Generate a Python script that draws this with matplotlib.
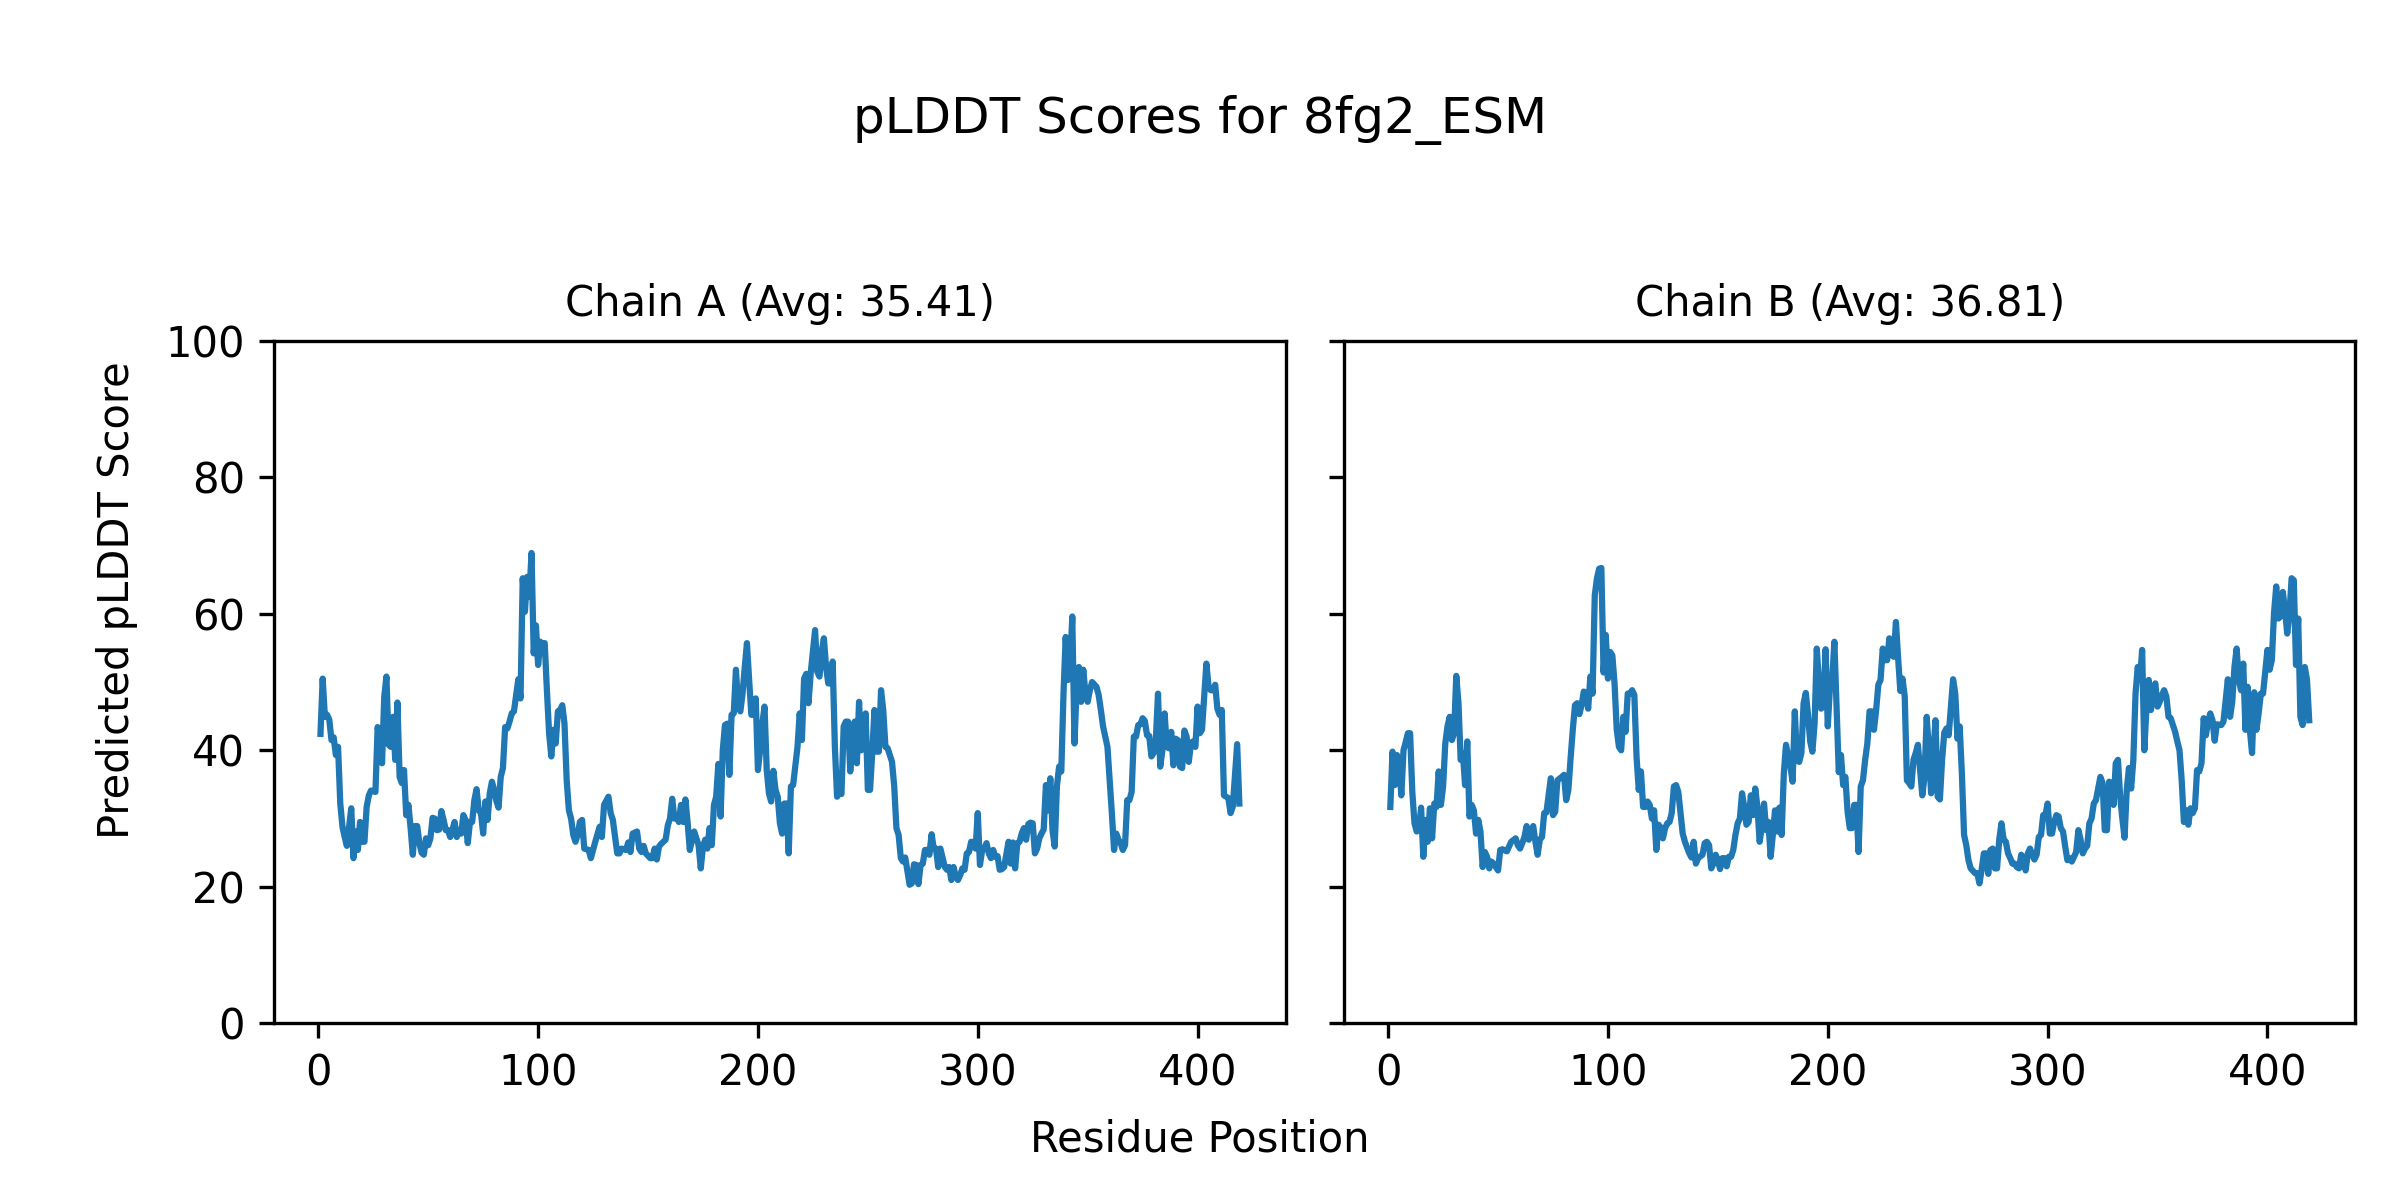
import matplotlib
matplotlib.use("Agg")
import matplotlib.pyplot as plt

# values (residue position, pLDDT score)
chain_a_pos = [1, 2, 3, 4, 5, 6, 7, 8, 9, 10, 11, 12, 13, 15, 16, 17, 18, 19, 20, 21,
               22, 23, 24, 26, 27, 28, 29, 30, 31, 32, 33, 34, 35, 36, 37, 38, 39, 40, 41, 42,
               43, 44, 45, 46, 47, 48, 49, 50, 51, 52, 53, 54, 55, 56, 57, 58, 59, 60, 61, 62,
               63, 64, 65, 66, 67, 68, 69, 70, 71, 72, 73, 74, 75, 76, 77, 78, 79, 80, 81, 82,
               83, 84, 85, 86, 87, 88, 89, 90, 91, 92, 93, 94, 95, 96, 97, 98, 99, 100, 101, 102,
               103, 104, 105, 106, 107, 108, 109, 110, 111, 112, 113, 114, 115, 116, 117, 118, 119, 120, 121, 123,
               124, 125, 126, 128, 129, 130, 132, 133, 134, 135, 136, 137, 138, 140, 141, 142, 143, 145, 146, 147,
               148, 149, 151, 152, 153, 154, 155, 156, 158, 159, 160, 161, 162, 163, 164, 165, 166, 167, 168, 169,
               170, 171, 172, 173, 174, 175, 176, 177, 178, 179, 180, 181, 182, 183, 184, 185, 186, 187, 188, 189,
               190, 191, 192, 193, 194, 195, 196, 197, 198, 199, 200, 201, 202, 203, 204, 205, 206, 207, 208, 209,
               210, 211, 212, 213, 214, 215, 216, 218, 219, 220, 221, 222, 223, 224, 226, 227, 228, 229, 230, 231,
               232, 233, 234, 235, 236, 237, 238, 239, 240, 241, 242, 243, 244, 245, 246, 247, 249, 250, 251, 252,
               253, 254, 255, 256, 257, 258, 259, 261, 262, 263, 264, 265, 266, 267, 269, 270, 271, 272, 273, 274,
               275, 276, 277, 278, 279, 280, 281, 282, 283, 285, 286, 287, 288, 289, 290, 291, 292, 293, 294, 295,
               296, 297, 298, 299, 300, 301, 302, 303, 304, 305, 306, 307, 308, 309, 310, 311, 312, 314, 315, 316,
               317, 318, 319, 320, 321, 322, 323, 324, 325, 326, 327, 328, 329, 330, 331, 332, 333, 334, 335, 336,
               337, 338, 339, 340, 341, 342, 343, 344, 345, 346, 347, 348, 349, 350, 351, 352, 354, 355, 356, 357,
               359, 360, 361, 362, 363, 364, 365, 366, 367, 368, 369, 370, 371, 372, 373, 374, 375, 376, 377, 378,
               379, 380, 381, 382, 383, 384, 385, 386, 387, 388, 389, 390, 391, 392, 393, 394, 395, 396, 397, 398,
               399, 400, 401, 402, 404, 405, 406, 407, 408, 409, 410, 411, 412, 413, 414, 415, 416, 418, 419]
chain_a_score = [42.4, 50.5, 44.9, 45.2, 44.5, 41.5, 41.9, 39.3, 40.5, 32.2, 28.8, 27.3, 26.0, 31.5, 24.2, 28.1, 25.4, 29.5, 26.6, 26.6,
                 31.7, 33.4, 34.1, 33.9, 43.4, 41.5, 38.1, 47.8, 50.8, 40.8, 40.5, 44.9, 38.6, 47.0, 36.1, 35.2, 37.1, 30.5, 32.0, 28.6,
                 24.7, 28.9, 28.9, 26.4, 25.0, 24.7, 27.1, 26.1, 27.1, 30.1, 30.0, 28.3, 28.4, 31.1, 29.8, 28.3, 28.3, 27.3, 28.3, 29.5,
                 27.3, 28.3, 27.8, 30.5, 29.8, 26.4, 29.5, 29.5, 32.7, 34.3, 31.2, 30.8, 27.8, 32.5, 29.8, 33.7, 35.4, 34.2, 32.6, 31.6,
                 36.1, 37.4, 43.4, 43.2, 44.2, 45.4, 45.7, 48.1, 50.4, 47.6, 65.2, 60.3, 65.4, 62.5, 68.9, 54.2, 58.3, 52.5, 55.9, 55.4,
                 55.7, 48.8, 42.5, 39.1, 43.0, 41.0, 45.7, 45.9, 46.6, 43.9, 35.6, 31.2, 30.0, 27.6, 26.6, 27.6, 29.5, 29.8, 25.6, 25.4,
                 24.2, 25.4, 26.6, 28.8, 27.3, 32.0, 33.2, 30.8, 29.8, 27.3, 24.9, 24.9, 25.6, 25.4, 26.5, 25.1, 27.8, 28.1, 25.6, 25.1,
                 26.0, 24.9, 24.2, 24.2, 25.6, 24.0, 25.9, 26.3, 26.9, 29.0, 30.0, 32.9, 30.0, 30.5, 29.5, 32.0, 29.5, 32.8, 29.5, 25.4,
                 26.9, 28.1, 27.1, 26.1, 22.7, 25.9, 26.9, 25.6, 28.6, 26.1, 32.0, 33.2, 38.0, 30.3, 40.0, 43.7, 43.9, 36.4, 45.2, 45.4,
                 51.8, 46.4, 45.7, 48.3, 52.2, 55.7, 50.3, 45.2, 45.2, 47.6, 37.1, 40.0, 43.9, 46.4, 37.1, 33.7, 32.5, 37.0, 34.2, 33.2,
                 29.3, 27.8, 32.2, 32.2, 24.9, 34.7, 34.9, 40.5, 45.4, 41.5, 50.5, 51.2, 46.9, 51.3, 57.6, 51.5, 50.8, 54.4, 56.4, 52.2,
                 49.8, 49.8, 53.0, 40.5, 33.2, 33.7, 33.6, 43.5, 44.2, 44.2, 36.9, 41.5, 44.2, 38.1, 47.1, 40.0, 45.4, 34.2, 34.2, 39.6,
                 45.9, 39.8, 39.8, 48.8, 45.9, 40.5, 40.3, 38.3, 34.7, 28.6, 27.6, 24.2, 23.7, 24.3, 20.3, 20.5, 23.3, 23.2, 20.4, 23.2,
                 23.4, 25.4, 25.4, 24.7, 27.7, 25.6, 25.6, 22.9, 25.6, 22.9, 22.5, 22.9, 21.0, 22.9, 21.5, 21.0, 21.7, 22.7, 22.5, 24.9,
                 25.1, 26.6, 26.5, 25.6, 30.8, 23.2, 25.4, 25.6, 26.4, 24.9, 24.2, 25.4, 24.4, 24.5, 22.5, 22.6, 22.9, 26.6, 23.4, 26.5,
                 22.7, 26.4, 26.6, 27.8, 28.6, 26.9, 29.2, 29.4, 29.3, 24.9, 25.6, 27.1, 27.8, 28.4, 34.9, 31.2, 35.9, 28.3, 25.9, 34.7,
                 37.6, 36.9, 48.3, 56.6, 50.3, 52.2, 59.6, 41.0, 49.3, 52.2, 47.1, 51.8, 48.3, 47.1, 48.8, 50.0, 49.3, 48.1, 45.9, 43.5,
                 40.5, 35.6, 30.8, 25.4, 27.8, 26.9, 26.4, 25.4, 26.1, 32.7, 32.7, 33.9, 42.0, 42.0, 43.7, 43.8, 44.7, 44.3, 42.2, 42.1,
                 39.1, 39.6, 41.5, 48.3, 37.6, 40.0, 45.4, 40.5, 40.3, 42.7, 37.8, 41.7, 41.5, 37.6, 37.4, 42.9, 42.0, 38.3, 41.1, 41.3,
                 40.5, 46.4, 42.5, 43.0, 52.7, 49.3, 48.8, 48.8, 49.6, 46.1, 45.2, 45.9, 33.4, 33.2, 33.0, 30.8, 31.7, 40.9, 32.2]

chain_b_pos = [1, 2, 3, 4, 5, 6, 7, 8, 9, 10, 11, 12, 13, 14, 15, 16, 17, 18, 19, 20,
               21, 22, 23, 24, 25, 26, 27, 28, 29, 30, 31, 32, 33, 34, 35, 36, 37, 38, 39, 40,
               41, 42, 43, 44, 45, 46, 47, 48, 49, 50, 51, 52, 54, 55, 56, 58, 59, 60, 61, 62,
               63, 64, 66, 67, 68, 69, 70, 71, 72, 74, 75, 76, 77, 79, 80, 81, 82, 83, 84, 85,
               86, 87, 88, 89, 90, 91, 92, 93, 94, 95, 96, 97, 98, 99, 100, 101, 102, 103, 104, 105,
               106, 107, 108, 109, 110, 111, 112, 113, 114, 115, 116, 117, 118, 119, 120, 121, 122, 123, 124, 125,
               126, 127, 128, 129, 130, 131, 132, 133, 134, 135, 137, 138, 139, 140, 141, 143, 144, 145, 146, 147,
               148, 149, 150, 151, 152, 153, 154, 155, 156, 157, 158, 159, 160, 161, 162, 163, 164, 165, 166, 167,
               168, 169, 170, 171, 172, 173, 174, 175, 176, 177, 178, 179, 180, 181, 182, 183, 184, 185, 186, 187,
               188, 189, 190, 191, 192, 193, 194, 195, 196, 197, 198, 199, 200, 201, 202, 203, 205, 206, 207, 208,
               209, 210, 211, 212, 213, 214, 215, 216, 217, 218, 219, 220, 221, 222, 223, 224, 225, 226, 227, 228,
               229, 230, 231, 232, 233, 234, 235, 236, 237, 238, 239, 240, 241, 242, 243, 244, 245, 246, 247, 248,
               249, 250, 251, 252, 253, 254, 255, 256, 257, 258, 259, 260, 261, 262, 263, 264, 265, 267, 268, 269,
               270, 271, 272, 273, 274, 275, 276, 277, 278, 279, 280, 281, 282, 283, 284, 285, 286, 287, 288, 289,
               290, 291, 292, 293, 294, 295, 296, 297, 298, 299, 300, 301, 302, 303, 304, 305, 306, 307, 308, 309,
               310, 311, 312, 313, 314, 315, 316, 317, 318, 319, 320, 321, 322, 323, 324, 325, 326, 327, 328, 329,
               330, 331, 332, 333, 334, 335, 336, 337, 338, 339, 340, 341, 342, 343, 344, 345, 346, 347, 348, 349,
               350, 351, 352, 353, 354, 355, 356, 357, 358, 359, 360, 361, 362, 363, 364, 365, 366, 367, 368, 369,
               370, 371, 372, 373, 374, 375, 376, 377, 379, 380, 382, 383, 384, 385, 386, 387, 388, 389, 390, 391,
               392, 393, 394, 395, 396, 397, 398, 400, 401, 402, 403, 404, 405, 406, 407, 408, 409, 410, 411, 412,
               413, 414, 415, 416, 417, 418, 419]
chain_b_score = [31.7, 39.8, 34.9, 39.3, 38.5, 33.4, 40.0, 41.2, 42.5, 42.5, 33.9, 29.3, 28.1, 28.4, 31.6, 24.4, 29.8, 26.6, 31.5, 27.1,
                 32.2, 31.7, 36.9, 32.0, 34.7, 41.0, 43.5, 44.9, 41.5, 42.5, 50.9, 46.9, 38.6, 39.6, 34.9, 41.3, 30.3, 32.0, 31.2, 27.8,
                 29.8, 28.1, 22.9, 25.1, 24.4, 22.7, 23.7, 23.4, 22.9, 22.4, 25.4, 25.5, 25.2, 25.9, 26.6, 27.1, 26.1, 25.6, 26.4, 27.3,
                 28.9, 26.9, 28.9, 26.6, 24.7, 26.9, 27.3, 30.8, 30.9, 35.9, 30.5, 31.0, 35.6, 36.1, 36.4, 32.7, 34.2, 38.8, 43.0, 46.6,
                 46.9, 45.3, 46.6, 48.6, 48.4, 46.1, 50.8, 48.3, 62.7, 65.2, 66.6, 66.7, 51.4, 56.9, 50.5, 54.4, 53.9, 49.8, 43.0, 40.5,
                 40.0, 44.9, 42.7, 48.3, 48.3, 48.8, 48.1, 39.1, 34.2, 36.9, 31.7, 31.7, 32.5, 32.0, 30.0, 31.2, 25.4, 29.1, 28.7, 27.1,
                 28.6, 29.3, 29.5, 30.8, 34.7, 34.9, 33.9, 30.8, 27.8, 26.6, 24.9, 24.3, 26.6, 23.4, 24.2, 24.7, 26.4, 26.6, 26.1, 22.7,
                 23.4, 24.7, 23.9, 22.6, 24.2, 24.2, 23.0, 24.4, 24.4, 25.4, 27.6, 29.3, 30.0, 33.7, 31.7, 29.1, 29.5, 33.4, 30.5, 34.4,
                 31.7, 26.6, 28.8, 32.2, 28.3, 29.5, 24.4, 27.6, 31.2, 28.1, 31.6, 27.6, 36.6, 40.8, 39.1, 37.6, 35.4, 45.7, 38.5, 38.3,
                 39.6, 46.9, 48.4, 45.2, 41.3, 39.8, 43.9, 54.9, 49.8, 46.1, 46.6, 54.8, 43.5, 49.3, 50.3, 55.9, 36.8, 39.3, 34.9, 36.1,
                 31.0, 28.6, 28.6, 32.0, 32.0, 25.1, 34.7, 35.6, 38.6, 41.0, 45.7, 45.7, 43.0, 45.9, 49.6, 50.3, 54.9, 53.2, 53.2, 56.4,
                 54.0, 53.7, 58.8, 53.5, 48.7, 50.5, 47.9, 35.6, 35.2, 34.7, 38.6, 39.6, 40.8, 37.1, 33.4, 36.1, 44.9, 40.0, 33.7, 39.6,
                 44.4, 33.2, 32.8, 38.6, 42.6, 43.2, 42.2, 46.4, 50.4, 48.3, 41.7, 43.5, 36.6, 27.6, 26.1, 23.9, 22.7, 22.0, 22.0, 20.5,
                 22.5, 24.9, 24.9, 21.9, 25.4, 25.6, 22.7, 22.7, 26.9, 29.3, 26.9, 26.6, 24.9, 24.2, 23.4, 23.4, 22.9, 22.7, 24.7, 24.2,
                 22.4, 24.9, 25.6, 24.7, 24.0, 24.7, 27.3, 27.6, 30.5, 30.5, 32.2, 27.8, 27.8, 29.5, 30.5, 30.3, 28.6, 28.1, 25.9, 23.9,
                 24.2, 23.7, 24.4, 25.1, 28.3, 26.9, 24.9, 25.6, 26.0, 29.3, 30.0, 32.2, 32.7, 34.4, 36.1, 35.2, 28.3, 28.3, 35.4, 35.2,
                 32.0, 38.1, 38.6, 33.2, 30.0, 27.2, 34.2, 37.4, 34.4, 38.6, 48.3, 52.2, 50.3, 54.7, 40.0, 46.4, 50.3, 45.9, 48.8, 49.8,
                 46.4, 47.1, 48.1, 48.8, 47.9, 44.9, 44.7, 43.7, 42.7, 41.3, 40.0, 35.6, 29.5, 31.2, 29.1, 31.5, 30.8, 31.5, 37.1, 36.9,
                 38.1, 44.7, 42.2, 44.2, 45.4, 44.4, 41.4, 43.8, 43.7, 44.2, 50.4, 44.9, 47.1, 52.2, 54.9, 50.3, 48.8, 52.7, 43.0, 49.3,
                 43.0, 39.6, 48.5, 43.0, 45.4, 48.3, 48.3, 54.7, 51.8, 53.2, 60.1, 64.0, 59.3, 59.6, 63.2, 60.5, 57.1, 59.9, 65.2, 64.9,
                 52.5, 59.3, 44.9, 43.7, 52.2, 50.3, 44.4]

chain_names = ["Chain A", "Chain B"]
chain_avgs = [35.41, 36.81]
model_name = "8fg2_ESM"

fig, axes = plt.subplots(1, 2, figsize=(8, 4), dpi=300, sharey=True)
fig.subplots_adjust(left=0.1143, right=0.9814, bottom=0.1472, top=0.7161, wspace=0.058)

data = [(chain_a_pos, chain_a_score), (chain_b_pos, chain_b_score)]
for ax, (pos, score), name, avg in zip(axes, data, chain_names, chain_avgs):
    ax.plot(pos, score, color="tab:blue")
    ax.set_title(f"{name} (Avg: {avg:.2f})", fontsize=10)
    ax.set_ylim(0, 100)
    ax.set_xlim(-20, 440)

# shared axis labels placed on the figure
fig.text(0.5, 0.04, "Residue Position", ha="center")
fig.text(0.04, 0.5, "Predicted pLDDT Score", va="center", rotation="vertical")
fig.suptitle(f"pLDDT Scores for {model_name}", fontsize=12, y=0.9, va="center")

plt.savefig("out.png", dpi=300)
